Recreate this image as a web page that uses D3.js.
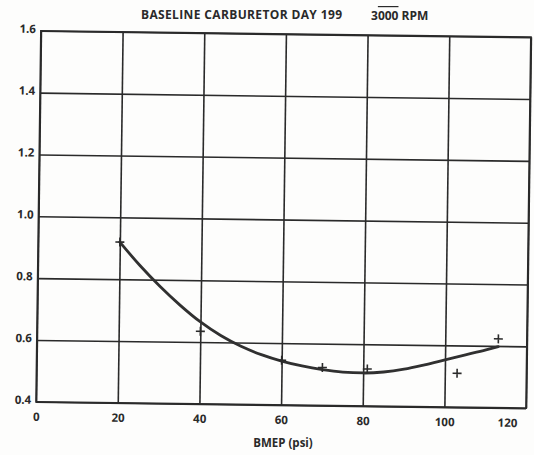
<!DOCTYPE html>
<html><head><meta charset="utf-8">
<script src="https://cdn.jsdelivr.net/npm/d3@7"></script>
<style>body{margin:0;background:#fff}svg{display:block}</style>
</head><body><svg id="c" width="534" height="455"></svg>
<script>
// ---- data ----
const titleMain = "BASELINE CARBURETOR DAY 199";
const titleRpmA = "3";
const titleRpmB = "000";
const titleRpmC = " RPM";
const xLabel = "BMEP (psi)";
const xTicks = [0, 20, 40, 60, 80, 100, 120];
const yTicks = [0.4, 0.6, 0.8, 1.0, 1.2, 1.4, 1.6];
// measured points (crosses)
const pointX = [20, 40, 60, 70, 81, 103, 113];
const pointY = [0.92, 0.635, 0.545, 0.523, 0.52, 0.51, 0.623];
// fitted curve
const curveX = [20, 25, 30, 35, 40, 45, 50, 55, 60, 65, 70, 75, 80, 85, 90, 95, 100, 105, 110, 113];
const curveY = [0.92, 0.845, 0.778, 0.718, 0.665, 0.622, 0.588, 0.562, 0.542, 0.527, 0.516, 0.509, 0.507, 0.511, 0.521, 0.536, 0.553, 0.570, 0.587, 0.598];

// ---- layout ----
const svg = d3.select("#c");
const L = 38.5, R = 528.5, T = 34, B = 405;
const ink = "#2a2a2a";
const font = "'Open Sans', 'DejaVu Sans', sans-serif";

svg.append("rect").attr("width", 534).attr("height", 455).attr("fill", "#fdfdfc");

const x = d3.scaleLinear().domain([0, 120]).range([L, R]);
const y = d3.scaleLinear().domain([0.4, 1.6]).range([B, T]);

// the scanned sheet is turned slightly clockwise
const g = svg.append("g").attr("transform", `rotate(0.75, ${(L + R) / 2}, ${(T + B) / 2})`);

// x axis with vertical gridlines
const xAxis = g.append("g").attr("transform", `translate(0,${B})`)
  .call(d3.axisBottom(x).tickValues(xTicks).tickSize(-(B - T)).tickSizeOuter(0).tickPadding(8).tickFormat(d3.format("d")));
xAxis.select(".domain").remove();
xAxis.selectAll("line").attr("stroke", ink).attr("stroke-width", 1.6);
xAxis.selectAll("text").attr("fill", ink).attr("font-family", font).attr("font-weight", "bold")
  .attr("font-size", 11.5).attr("dy", "0.95em");
xAxis.selectAll(".tick").filter(d => d === 120).select("text")
  .attr("text-anchor", "end").attr("dx", -9);

// y axis with horizontal gridlines
const yAxis = g.append("g").attr("transform", `translate(${L},0)`)
  .call(d3.axisLeft(y).tickValues(yTicks).tickSize(-(R - L)).tickSizeOuter(0).tickPadding(5).tickFormat(d3.format(".1f")));
yAxis.select(".domain").remove();
yAxis.selectAll("line").attr("stroke", ink).attr("stroke-width", 1.6);
yAxis.selectAll("text").attr("fill", ink).attr("font-family", font).attr("font-weight", "bold")
  .attr("font-size", 11.5).attr("dy", "0.15em");

// frame
g.append("rect").attr("x", L).attr("y", T).attr("width", R - L).attr("height", B - T)
  .attr("fill", "none").attr("stroke", ink).attr("stroke-width", 1.8);

// curve
const curveData = curveX.map((d, i) => [d, curveY[i]]);
g.append("path").datum(curveData)
  .attr("d", d3.line().x(d => x(d[0])).y(d => y(d[1])).curve(d3.curveMonotoneX))
  .attr("fill", "none").attr("stroke", "#303030").attr("stroke-width", 2.8).attr("stroke-linecap", "round");

// crosses
const pts = pointX.map((d, i) => [d, pointY[i]]);
g.append("g").selectAll("path").data(pts).join("path")
  .attr("transform", d => `translate(${x(d[0])},${y(d[1])})`)
  .attr("d", "M-4.5,0H4.5M0,-4.5V4.5")
  .attr("stroke", ink).attr("stroke-width", 1.6).attr("fill", "none");

// title
svg.append("text").attr("x", 141).attr("y", 19)
  .attr("font-family", font).attr("font-weight", "bold").attr("font-size", 12).attr("fill", ink)
  .attr("textLength", 201).attr("lengthAdjust", "spacing")
  .text(titleMain);
const t2 = svg.append("text").attr("x", 371).attr("y", 20)
  .attr("font-family", font).attr("font-weight", "bold").attr("font-size", 12).attr("fill", ink);
t2.append("tspan").text(titleRpmA);
t2.append("tspan").text(titleRpmB).style("text-decoration", "overline");
t2.append("tspan").text(titleRpmC);

// x label
svg.append("text").attr("x", 283).attr("y", 447).attr("text-anchor", "middle")
  .attr("font-family", font).attr("font-weight", "bold").attr("font-size", 11.5).attr("fill", ink)
  .text(xLabel);
</script></body></html>
